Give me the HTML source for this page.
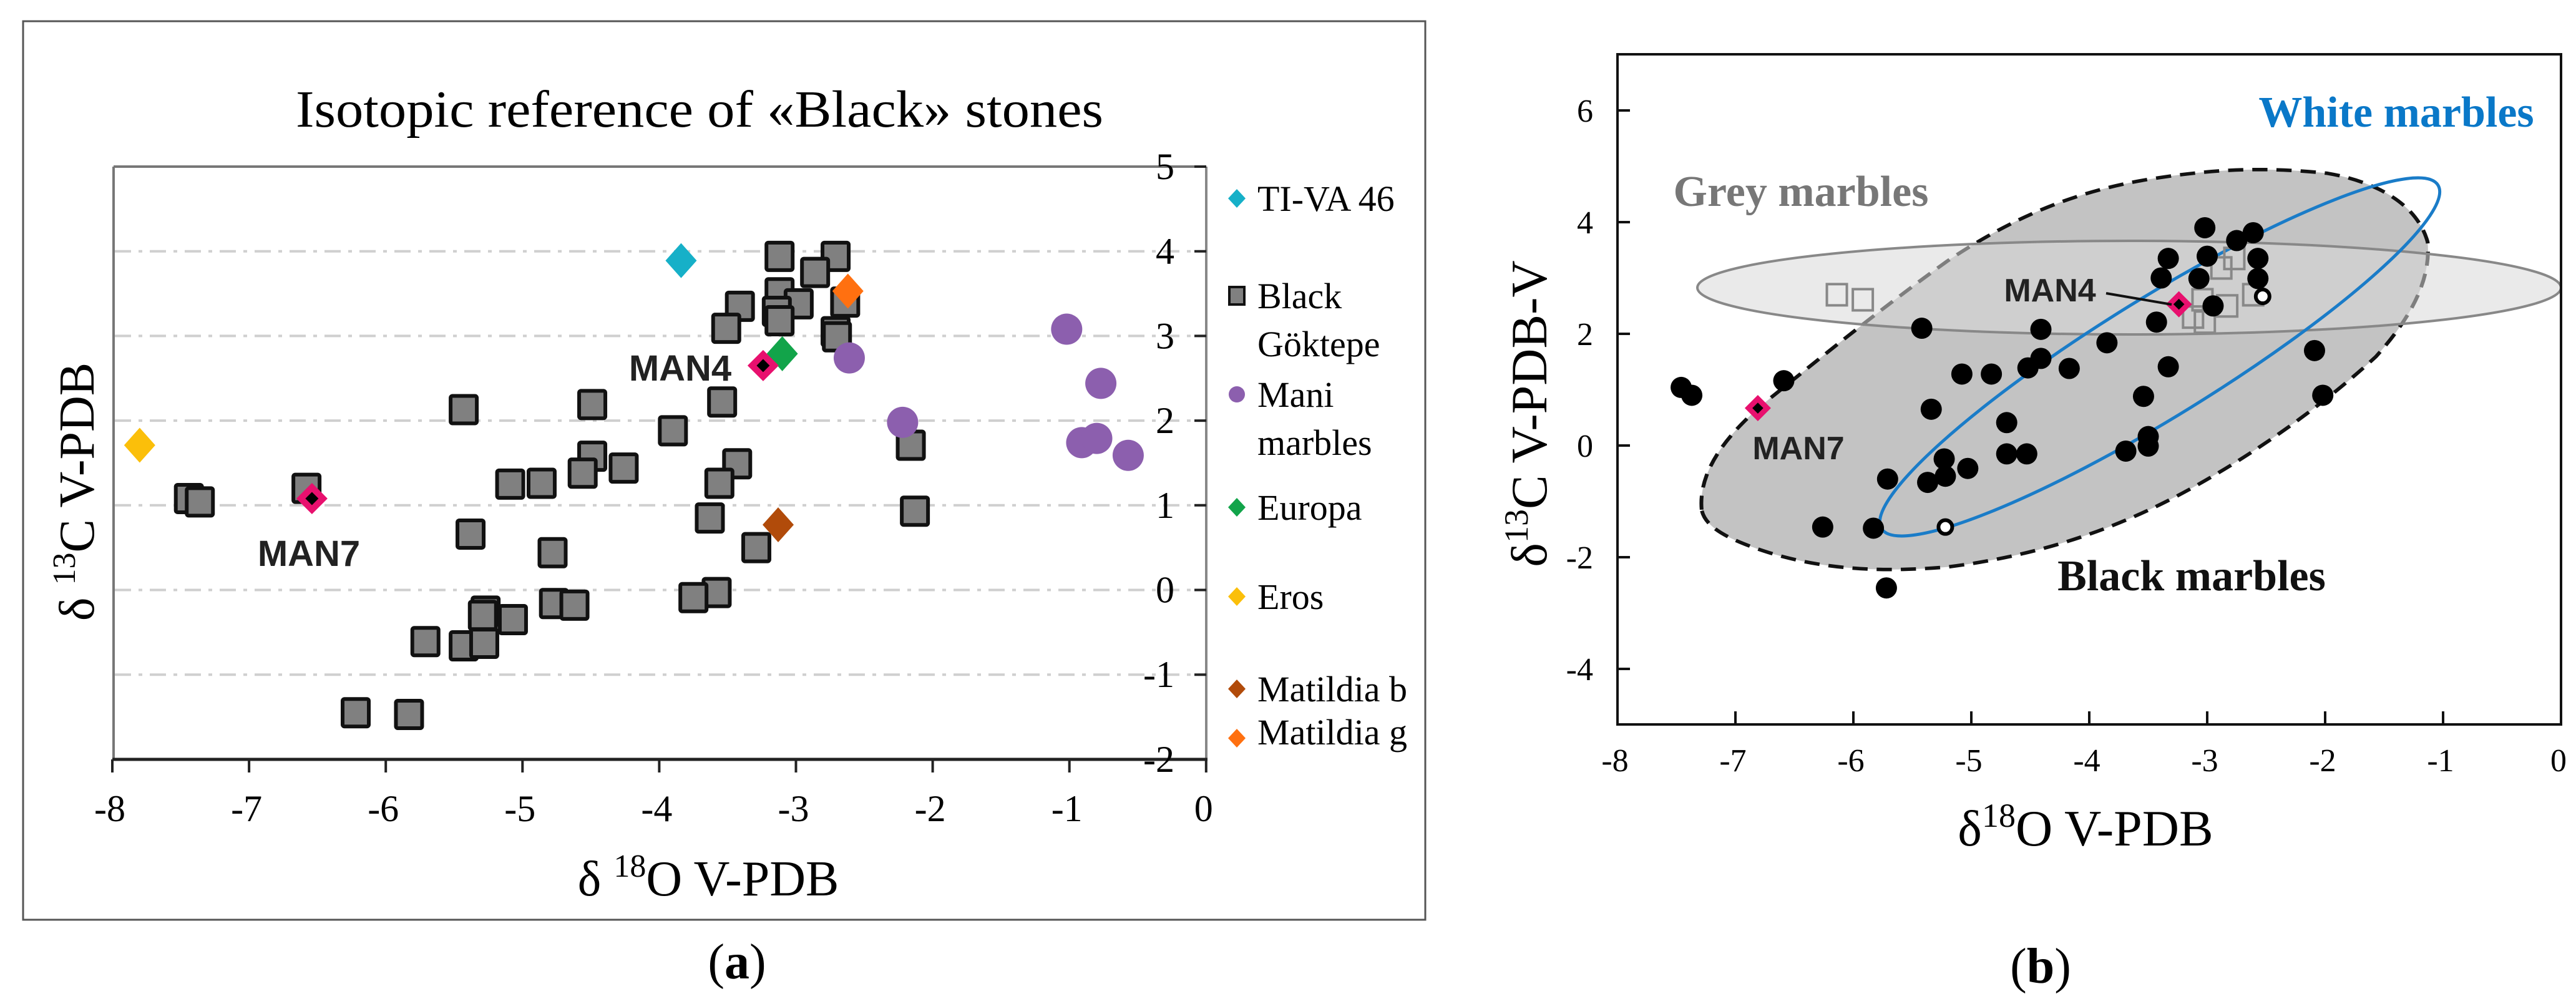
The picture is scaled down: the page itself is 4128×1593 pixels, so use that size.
<!DOCTYPE html>
<html><head><meta charset="utf-8">
<style>
html,body{margin:0;padding:0;background:#fff;}
svg{display:block;}
.serif{font-family:"Liberation Serif",serif;}
.sans{font-family:"Liberation Sans",sans-serif;}
</style></head>
<body>
<svg id="fig" xmlns="http://www.w3.org/2000/svg" width="4128" height="1593" viewBox="0 0 4128 1593">
<rect x="0" y="0" width="4128" height="1593" fill="#fff"/>
<g id="pa">
  <rect x="37" y="34" width="2247" height="1440" fill="none" stroke="#555" stroke-width="3"/>
  <text x="1121" y="203" text-anchor="middle" class="serif" font-size="84" textLength="1294" lengthAdjust="spacingAndGlyphs">Isotopic reference of «Black» stones</text>
  <g id="pa-grid"></g>
  <line x1="182" y1="267" x2="1933" y2="267" stroke="#777" stroke-width="4"/>
  <line x1="182" y1="267" x2="182" y2="1217" stroke="#777" stroke-width="4"/>
  <line x1="1933" y1="267" x2="1933" y2="1217" stroke="#888" stroke-width="4"/>
  <line x1="180" y1="1217" x2="1935" y2="1217" stroke="#222" stroke-width="5"/>
  <g id="pa-ticks"></g>
  <g id="pa-marks"></g>
  <text x="1135" y="1435" text-anchor="middle" class="serif" font-size="80">δ <tspan font-size="52" dy="-30">18</tspan><tspan dy="30">O V-PDB</tspan></text>
  <text transform="translate(150,788) rotate(-90)" text-anchor="middle" class="serif" font-size="80">δ <tspan font-size="52" dy="-30">13</tspan><tspan dy="30">C V-PDB</tspan></text>
  <text x="1090" y="610" text-anchor="middle" class="sans" font-size="58" font-weight="bold" fill="#222">MAN4</text>
  <text x="495" y="907" text-anchor="middle" class="sans" font-size="58" font-weight="bold" fill="#222">MAN7</text>
  <g id="pa-legend"></g>
  <text x="1181" y="1568" text-anchor="middle" class="serif" font-size="80">(<tspan font-weight="bold">a</tspan>)</text>
</g>
<g id="pb">
  <defs><clipPath id="clipb"><rect x="2592" y="87" width="1512" height="1074"/></clipPath></defs>
  <g clip-path="url(#clipb)">
    <path transform="matrix(1.108,0,0,1.021,2400,0)"
      d="M295,800 C290,740 330,680 400,620 C480,550 560,480 650,410 C740,345 830,300 950,280 C1040,265 1110,262 1200,272 C1270,285 1330,320 1345,380 C1350,440 1320,500 1270,560 C1200,630 1110,700 1030,750 C920,820 800,870 650,890 C560,898 480,895 400,870 C340,850 300,830 295,800 Z"
      fill="#c3c3c3" stroke="#111" stroke-width="5.5" stroke-dasharray="22,13"/>
    <ellipse cx="3412" cy="461" rx="692" ry="75" fill="#d8d8d8" fill-opacity="0.55" stroke="#888" stroke-width="4"/>
    <ellipse cx="3461" cy="572" rx="524" ry="95" transform="rotate(-31.7 3461 572)" fill="none" stroke="#1a7cc8" stroke-width="5"/>
  </g>
  <rect x="2592" y="87" width="1512" height="1074" fill="none" stroke="#111" stroke-width="4"/>
  <g id="pb-ticks"></g>
  <g id="pb-marks"></g>
  <line x1="3375" y1="470" x2="3480" y2="488" stroke="#111" stroke-width="4"/>
  <text x="3285" y="483" text-anchor="middle" class="sans" font-size="52" font-weight="bold" fill="#222">MAN4</text>
  <text x="2882" y="736" text-anchor="middle" class="sans" font-size="52" font-weight="bold" fill="#222">MAN7</text>
  <text x="2886" y="330" text-anchor="middle" class="serif" font-size="70" font-weight="bold" fill="#777">Grey marbles</text>
  <text x="3840" y="203" text-anchor="middle" class="serif" font-size="70" font-weight="bold" fill="#0a78c8">White  marbles</text>
  <text x="3512" y="946" text-anchor="middle" class="serif" font-size="70" font-weight="bold" fill="#111">Black marbles</text>
  <text x="3342" y="1355" text-anchor="middle" class="serif" font-size="82">δ<tspan font-size="54" dy="-30">18</tspan><tspan dy="30">O  V-PDB</tspan></text>
  <text transform="translate(2478,663) rotate(-90)" text-anchor="middle" class="serif" font-size="82">δ<tspan font-size="54" dy="-30">13</tspan><tspan dy="30">C  V-PDB-V</tspan></text>
  <text x="3270" y="1575" text-anchor="middle" class="serif" font-size="80">(<tspan font-weight="bold">b</tspan>)</text>
</g>
</svg>
<script>
const aXTicks = [-8,-7,-6,-5,-4,-3,-2,-1,0];
const aYTicks = [5,4,3,2,1,0,-1,-2];
const aGridY = [4,3,2,1,0,-1];
const blackGoktepeX = [-3.12,-2.71,-2.86,-2.64,-3.12,-2.98,-3.41,-3.14,-3.12,-3.51,-2.71,-2.70,-5.43,-4.49,-3.54,-3.90,-2.16,-4.49,-4.56,-4.26,-3.43,-3.56,-5.09,-4.86,-6.58,-7.44,-7.36,-2.13,-3.63,-5.38,-4.78,-3.29,-3.58,-3.75,-4.77,-4.62,-5.27,-5.29,-5.07,-5.71,-5.43,-5.28,-6.22,-5.83];
const blackGoktepeY = [3.94,3.94,3.75,3.40,3.51,3.38,3.35,3.29,3.18,3.09,3.05,2.99,2.13,2.19,2.22,1.88,1.71,1.58,1.38,1.44,1.49,1.26,1.25,1.26,1.20,1.08,1.04,0.93,0.85,0.66,0.44,0.50,-0.03,-0.09,-0.16,-0.18,-0.25,-0.30,-0.35,-0.61,-0.66,-0.63,-1.45,-1.47];
const maniX = [-1.02,-2.61,-0.77,-2.22,-0.91,-0.80,-0.57];
const maniY = [3.08,2.74,2.44,1.98,1.74,1.79,1.59];
const tivaX = [-3.84], tivaY = [3.89];
const europaX = [-3.10], europaY = [2.79];
const erosX = [-7.80], erosY = [1.71];
const matbX = [-3.13], matbY = [0.77];
const matgX = [-2.62], matgY = [3.53];
const manAX = [-3.24,-6.54], manAY = [2.65,1.08];
const legendLabels = [["TI-VA 46"],["Black","Göktepe"],["Mani","marbles"],["Europa"],["Eros"],["Matildia b"],["Matildia g"]];

const bXTicks = [-8,-7,-6,-5,-4,-3,-2,-1,0];
const bYTicks = [6,4,2,0,-2,-4];
const blackMarbleX = [-7.46,-7.37,-6.59,-5.42,-5.34,-5.71,-5.37,-5.23,-5.22,-5.03,-5.08,-4.83,-4.52,-4.41,-4.41,-4.17,-4.70,-4.70,-4.53,-3.85,-3.69,-3.54,-3.50,-3.50,-3.33,-3.43,-3.39,-3.33,-3.02,-3.00,-3.07,-2.95,-2.75,-2.61,-2.57,-2.57,-2.09,-2.02,-6.26,-5.83,-5.72];
const blackMarbleY = [1.04,0.90,1.16,2.10,0.65,-0.60,-0.66,-0.24,-0.55,-0.41,1.28,1.28,1.39,1.56,2.08,1.38,0.41,-0.15,-0.15,1.84,-0.10,0.88,0.16,-0.01,1.41,2.21,3.00,3.35,3.90,3.39,2.99,2.50,3.67,3.81,3.35,2.99,1.70,0.90,-1.46,-1.48,-2.55];
const openCircleX = [-2.53,-5.22], openCircleY = [2.67,-1.46];
const greySquareX = [-6.14,-5.92,-2.88,-2.77,-3.12,-3.02,-2.83,-2.61,-3.04];
const greySquareY = [2.70,2.61,3.18,3.35,2.30,2.21,2.50,2.70,2.61];
const manBX = [-3.24,-6.81], manBY = [2.53,0.67];

const NS = "http://www.w3.org/2000/svg";
function mk(tag, attrs, parent){const e=document.createElementNS(NS,tag);for(const k in attrs)e.setAttribute(k,attrs[k]);parent.appendChild(e);return e;}

function ax(v){return 180+(v+8)*219.1;}
function ay(v){return 267+(5-v)*135.7;}
function bx(v){return 2592+(v+8)*189;}
function by(v){return 714-v*89.5;}

function diamond(cx,cy,hw,hh,fill,parent){
  return mk('polygon',{points:`${cx},${cy-hh} ${cx+hw},${cy} ${cx},${cy+hh} ${cx-hw},${cy}`,fill:fill},parent);
}
function manMarker(cx,cy,s,parent){
  const g=mk('g',{},parent);
  
  
  diamond(cx,cy,s,s,'#e8106e',g);
  diamond(cx,cy,s*0.42,s*0.42,'#000',g);
  return g;
}

const gridA=document.getElementById('pa-grid');
aGridY.forEach(v=>{
  const l=mk('line',{x1:184,x2:1931,y1:ay(v),y2:ay(v),stroke:'#cfcfcf','stroke-width':4,'stroke-dasharray':'26,12,6,12'},gridA);
  
  
});
const ticksA=document.getElementById('pa-ticks');
aXTicks.forEach(v=>{
  const t=mk('line',{x1:ax(v),x2:ax(v),y1:1217,y2:1238,stroke:'#222','stroke-width':4},ticksA);
  
  
  const tx=mk('text',{x:ax(v)-4,y:1316,'text-anchor':'middle','font-size':60,'font-family':'Liberation Serif, serif'},ticksA);
  tx.textContent=v;
  
  
});
aYTicks.forEach(v=>{
  const t=mk('line',{x1:1914,x2:1933,y1:ay(v),y2:ay(v),stroke:'#222','stroke-width':4},ticksA);
  
  
  const tx=mk('text',{x:1882,y:ay(v)+20,'text-anchor':'end','font-size':60,'font-family':'Liberation Serif, serif'},ticksA);
  tx.textContent=v;
  
  
});
const marksA=document.getElementById('pa-marks');
blackGoktepeX.forEach((x,i)=>{
  const r=mk('rect',{x:ax(x)-21,y:ay(blackGoktepeY[i])-22,width:42,height:44,fill:'#808080',stroke:'#111','stroke-width':6,rx:3},marksA);
  
  
});
maniX.forEach((x,i)=>{
  const c=mk('circle',{cx:ax(x),cy:ay(maniY[i]),r:25,fill:'#8c5fae'},marksA);
  
  
});
[[tivaX,tivaY,'#16b0c8','tiva-46-point'],[europaX,europaY,'#12a44a','europa-point'],[erosX,erosY,'#fbbf0a','eros-point'],[matbX,matbY,'#b14b0a','matildia-b-point'],[matgX,matgY,'#ff7010','matildia-g-point']].forEach(s=>{
  s[0].forEach((x,i)=>{
    const d=diamond(ax(x),ay(s[1][i]),25,28,s[2],marksA);
    
    
  });
});
manAX.forEach((x,i)=>{ manMarker(ax(x),ay(manAY[i]),25,marksA); });

const legA=document.getElementById('pa-legend');
const legY=[318,474,632,813,956,1104,1173];
const legMarkerY=[318,474,632,813,956,1104,1183];
const legColors=['#16b0c8','sq','#8c5fae','#12a44a','#fbbf0a','#b14b0a','#ff7010'];
legendLabels.forEach((lines,i)=>{
  const g=mk('g',{},legA);
  
  
  const c=legColors[i], my=legMarkerY[i];
  if(c==='sq') mk('rect',{x:1970,y:my-14,width:24,height:28,fill:'#808080',stroke:'#111','stroke-width':4},g);
  else if(i===2) mk('circle',{cx:1982,cy:my,r:13,fill:c},g);
  else diamond(1982,my,14,15,c,g);
  lines.forEach((ln,j)=>{
    const t=mk('text',{x:2015,y:legY[i]+20+j*77,'font-size':58,'font-family':'Liberation Serif, serif'},g);
    t.textContent=ln;
  });
});

const ticksB=document.getElementById('pb-ticks');
bXTicks.forEach(v=>{
  const t=mk('line',{x1:bx(v),x2:bx(v),y1:1161,y2:1140,stroke:'#111','stroke-width':4},ticksB);
  
  
  const tx=mk('text',{x:bx(v)-4,y:1236,'text-anchor':'middle','font-size':52,'font-family':'Liberation Serif, serif'},ticksB);
  tx.textContent=v;
  
  
});
bYTicks.forEach(v=>{
  const t=mk('line',{x1:2592,x2:2612,y1:by(v),y2:by(v),stroke:'#111','stroke-width':4},ticksB);
  
  
  const tx=mk('text',{x:2553,y:by(v)+18,'text-anchor':'end','font-size':52,'font-family':'Liberation Serif, serif'},ticksB);
  tx.textContent=v;
  
  
});
const marksB=document.getElementById('pb-marks');
greySquareX.forEach((x,i)=>{
  const r=mk('rect',{x:bx(x)-16,y:by(greySquareY[i])-17,width:32,height:34,fill:'none',stroke:'#888','stroke-width':4},marksB);
  
  
});
blackMarbleX.forEach((x,i)=>{
  const c=mk('circle',{cx:bx(x),cy:by(blackMarbleY[i]),r:17,fill:'#000'},marksB);
  
  
});
openCircleX.forEach((x,i)=>{
  const c=mk('circle',{cx:bx(x),cy:by(openCircleY[i]),r:11,fill:'#fff',stroke:'#000','stroke-width':6},marksB);
  
  
});
manBX.forEach((x,i)=>{ manMarker(bx(x),by(manBY[i]),21,marksB); });
</script>
</body></html>
